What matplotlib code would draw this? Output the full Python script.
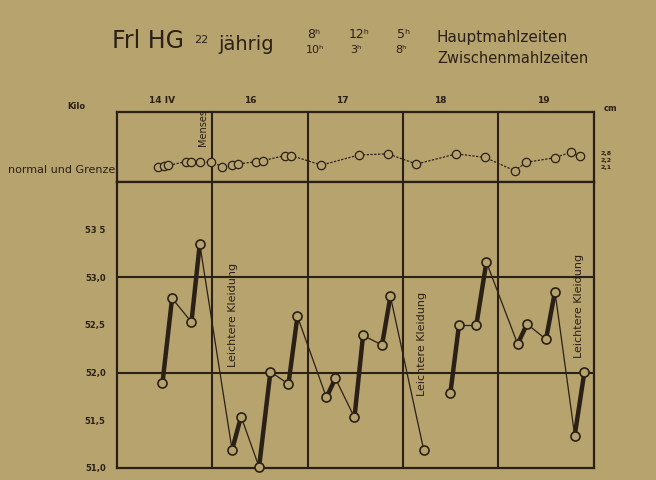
import matplotlib
matplotlib.use("Agg")
import matplotlib.pyplot as plt

# ─── data (x = days from left edge of sheet, 1 column = 1 day) ───────────────
day_labels   = ["14 IV", "16", "17", "18", "19"]
day_label_x  = [0.48, 1.40, 2.37, 3.39, 4.47]
day_bounds   = [1, 2, 3, 4]

weight_x = [0.479, 0.580, 0.783, 0.870, 1.209, 1.303, 1.492, 1.611, 1.800, 1.894,
            2.198, 2.292, 2.492, 2.582, 2.781, 2.869, 3.218,
            3.498, 3.588, 3.770, 3.875, 4.203, 4.301, 4.500, 4.594, 4.801, 4.903]
weight_kg = [51.89, 52.78, 52.53, 53.35, 51.19, 51.54, 51.01, 52.01, 51.88, 52.59,
             51.74, 51.94, 51.53, 52.39, 52.29, 52.80, 51.19,
             51.79, 52.50, 52.50, 53.16, 52.30, 52.51, 52.35, 52.85, 51.34, 52.01]
# segment type between point i and i+1: "T" thick (meal), "t" thin, "" gap
segment_kind = ["T", "t", "T", "t", "T", "t", "T", "t", "T", "t",
                "T", "t", "T", "t", "T", "t", "",
                "T", "t", "T", "t", "T", "t", "T", "t", "T"]

temp_x = [0.433, 0.493, 0.542, 0.723, 0.776, 0.870, 0.993, 1.108, 1.213, 1.271,
          1.464, 1.534, 1.761, 1.831, 2.146, 2.540, 2.844, 3.142, 3.561, 3.859,
          4.172, 4.295, 4.591, 4.766, 4.853]
temp_c = [36.44, 36.46, 36.47, 36.58, 36.58, 36.58, 36.56, 36.44, 36.48, 36.51,
          36.58, 36.61, 36.75, 36.75, 36.48, 36.77, 36.80, 36.51, 36.80, 36.70,
          36.32, 36.56, 36.69, 36.85, 36.75]

weight_ticks  = [51.0, 51.5, 52.0, 52.5, 53.0, 53.5]
weight_labels = ["51,0", "51,5", "52,0", "52,5", "53,0", "53 5"]

notes = [  # (x, y, text) rotated notes in weight panel
    (1.22, 52.60, "Leichtere Kleidung"),
    (3.20, 52.30, "Leichtere Kleidung"),
    (4.85, 52.70, "Leichtere Kleidung"),
]

PAPER = "#b7a36e"
INK   = "#2a2016"

fig = plt.figure(figsize=(6.56, 4.80), dpi=100, facecolor=PAPER)
ax_t = fig.add_axes([0.178, 0.621, 0.727, 0.146])
ax_w = fig.add_axes([0.178, 0.025, 0.727, 0.596])

for ax in (ax_t, ax_w):
    ax.set_facecolor(PAPER)
    ax.set_xlim(0, 5)
    for s in ax.spines.values():
        s.set_color(INK)
        s.set_linewidth(1.6)
    for b in day_bounds:
        ax.axvline(b, color=INK, lw=1.5)
    ax.tick_params(length=0)

# ─── temperature panel ───────────────────────────────────────────────────────
ax_t.set_ylim(36.0, 38.0)
ax_t.set_xticks([])
ax_t.set_yticks([])
ax_t.plot(temp_x, temp_c, color=INK, lw=0.9, ls=(0, (1.8, 1.2)),
          marker="o", ms=6, mfc=PAPER, mec=INK, mew=0.9)
ax_t.text(0.90, 37.55, "Menses", rotation=90, ha="center", va="center",
          fontsize=7, color=INK)
for lab, x in zip(day_labels, day_label_x):
    ax_t.text(x, 38.2, lab, ha="center", va="bottom", fontsize=6.5,
              fontweight="bold", color=INK)
ax_t.text(-0.02, 36.35, "normal und Grenze", ha="right", va="center",
          fontsize=8, color=INK)
for i, s in enumerate(["2,8", "2,2", "2,1"]):
    ax_t.text(5.07, 36.8 - i * 0.2, s, ha="left", va="center", fontsize=4.5,
              fontweight="bold", color=INK)
ax_t.text(-0.42, 38.15, "Kilo", ha="center", va="center", fontsize=6,
          fontweight="bold", color=INK)
ax_t.text(5.1, 38.1, "cm", ha="left", va="center", fontsize=6,
          fontweight="bold", color=INK)

# ─── weight panel ────────────────────────────────────────────────────────────
ax_w.set_ylim(51.0, 54.0)
ax_w.set_xticks([])
ax_w.set_yticks(weight_ticks)
ax_w.set_yticklabels(weight_labels, fontsize=6, fontweight="bold", color=INK)
ax_w.tick_params(axis="y", pad=8)
for yv in (52.0, 53.0):
    ax_w.axhline(yv, color=INK, lw=1.5)

for i, kind in enumerate(segment_kind):
    if not kind:
        continue
    ax_w.plot(weight_x[i:i + 2], weight_kg[i:i + 2], color=INK,
              lw=3.2 if kind == "T" else 0.9, solid_capstyle="round",
              zorder=3, clip_on=False)
ax_w.plot(weight_x, weight_kg, ls="none", marker="o", ms=6.5, mfc=PAPER,
          mec=INK, mew=1.2, zorder=4, clip_on=False)

for x, y, s in notes:
    ax_w.text(x, y, s, rotation=90, ha="center", va="center", fontsize=8,
              color=INK, zorder=2)

# ─── header ─────────────────────────────────────────────────────────────────
fig.text(0.170, 0.915, "Frl HG", fontsize=17, color=INK, va="center")
fig.text(0.296, 0.917, "22", fontsize=8, color=INK, va="center")
fig.text(0.333, 0.908, "jährig", fontsize=14, color=INK, va="center")
for x, s in zip([0.468, 0.532, 0.605], ["8ʰ", "12ʰ", "5ʰ"]):
    fig.text(x, 0.928, s, fontsize=9, color=INK, va="center")
for x, s in zip([0.466, 0.534, 0.603], ["10ʰ", "3ʰ", "8ʰ"]):
    fig.text(x, 0.895, s, fontsize=8, color=INK, va="center")
fig.text(0.666, 0.922, "Hauptmahlzeiten", fontsize=11, color=INK, va="center")
fig.text(0.666, 0.878, "Zwischenmahlzeiten", fontsize=10.5, color=INK, va="center")

fig.savefig("out.png", dpi=100, facecolor=PAPER)
